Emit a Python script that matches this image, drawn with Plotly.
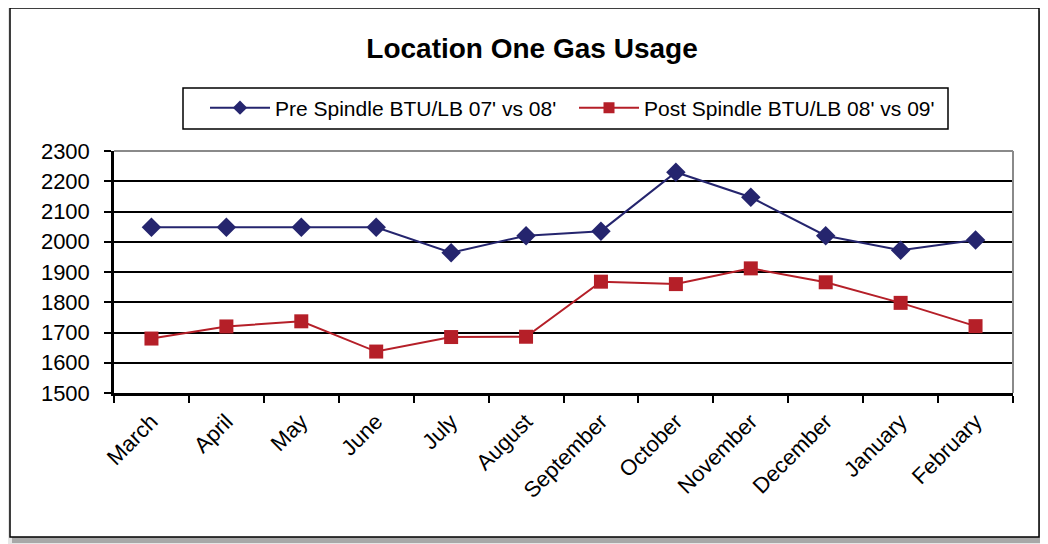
import plotly.graph_objects as go

months = ["March", "April", "May", "June", "July", "August", "September",
          "October", "November", "December", "January", "February"]
pre_spindle = [2048, 2048, 2048, 2048, 1964, 2020, 2035, 2230, 2147, 2020, 1972, 2006]
post_spindle = [1680, 1720, 1737, 1637, 1685, 1686, 1868, 1860, 1912, 1866, 1798, 1721]
y_ticks = list(range(1500, 2301, 100))

PRE_NAME = "Pre Spindle BTU/LB 07' vs 08'"
POST_NAME = "Post Spindle BTU/LB 08' vs 09'"
NAVY = "#25256E"
RED = "#B51F28"

# page body has an 8px margin: figure coordinates = screen - 8
OFF = 8
W, H = 1040, 536
L, R, T, B = 106, 35, 143, 151

def px_x(p):
    return (p - OFF - L) / (W - L - R)

def px_y(p):
    return (H - B - (p - OFF)) / (H - T - B)

fig = go.Figure()
fig.add_trace(go.Scatter(
    x=months, y=pre_spindle, mode="lines+markers", name=PRE_NAME,
    showlegend=False,
    line=dict(color=NAVY, width=2),
    marker=dict(symbol="diamond", size=15, color=NAVY),
))
fig.add_trace(go.Scatter(
    x=months, y=post_spindle, mode="lines+markers", name=POST_NAME,
    showlegend=False,
    line=dict(color=RED, width=2),
    marker=dict(symbol="square", size=14, color=RED),
))
# legend entries (smaller symbols, as in the original legend)
fig.add_trace(go.Scatter(
    x=[None], y=[None], mode="lines+markers", name=PRE_NAME,
    line=dict(color=NAVY, width=2),
    marker=dict(symbol="diamond", size=11, color=NAVY),
))
fig.add_trace(go.Scatter(
    x=[None], y=[None], mode="lines+markers", name=POST_NAME,
    line=dict(color=RED, width=2),
    marker=dict(symbol="square", size=11, color=RED),
))

shapes = [
    dict(type="rect", xref="paper", yref="paper", layer="below",
         x0=px_x(6), x1=px_x(1047), y0=px_y(544), y1=px_y(4),
         fillcolor="#e6e6e6", line=dict(width=0)),
    dict(type="rect", xref="paper", yref="paper", layer="below",
         x0=px_x(12), x1=px_x(1045), y0=px_y(543), y1=px_y(11),
         fillcolor="#a8a8a8", line=dict(width=0)),
    dict(type="rect", xref="paper", yref="paper", layer="below",
         x0=px_x(10), x1=px_x(1039), y0=px_y(537), y1=px_y(8),
         fillcolor="white", line=dict(color="black", width=1.5)),
    # legend box
    dict(type="rect", xref="paper", yref="paper", layer="below",
         x0=px_x(183), x1=px_x(948), y0=px_y(129), y1=px_y(88),
         fillcolor="white", line=dict(color="black", width=1.5)),
    dict(type="line", xref="paper", yref="paper", layer="above",
         x0=0, x1=1, y0=1, y1=1, line=dict(color="#8a8a8a", width=2)),
    dict(type="line", xref="paper", yref="paper", layer="above",
         x0=1, x1=1, y0=0, y1=1, line=dict(color="#8a8a8a", width=2)),
]

fig.update_layout(
    width=W, height=H,
    margin=dict(l=L, r=R, t=T, b=B),
    paper_bgcolor="rgba(0,0,0,0)",
    plot_bgcolor="#C0C0C0",
    font=dict(family="Arial, Liberation Sans, sans-serif", color="black", size=21),
    title=dict(text="<b>Location One Gas Usage</b>", x=(532 - OFF) / W,
               xanchor="center", y=1 - (48 - OFF) / H, yanchor="middle",
               font=dict(size=28, color="black")),
    showlegend=True,
    legend=dict(orientation="h", x=px_x(205), xanchor="left",
                y=px_y(108), yanchor="middle",
                borderwidth=0, bgcolor="rgba(0,0,0,0)",
                font=dict(size=21), itemwidth=60, entrywidth=294,
                tracegroupgap=0),
    shapes=shapes,
    xaxis=dict(
        type="category", tickson="boundaries", tickangle=-45,
        showgrid=False, showline=True, linecolor="black", linewidth=3,
        ticks="outside", ticklen=7, tickcolor="black", tickwidth=1.5,
        tickfont=dict(size=22), range=[-0.5, 11.5], ticklabelstandoff=4,
    ),
    yaxis=dict(
        range=[1500, 2300], tickvals=y_ticks,
        showgrid=True, gridcolor="black", gridwidth=2,
        showline=True, linecolor="black", linewidth=2.5,
        ticks="outside", ticklen=7, tickcolor="black", tickwidth=1.5,
        tickfont=dict(size=22), zeroline=False, ticklabelstandoff=10,
    ),
)

fig.write_html("out.html")
